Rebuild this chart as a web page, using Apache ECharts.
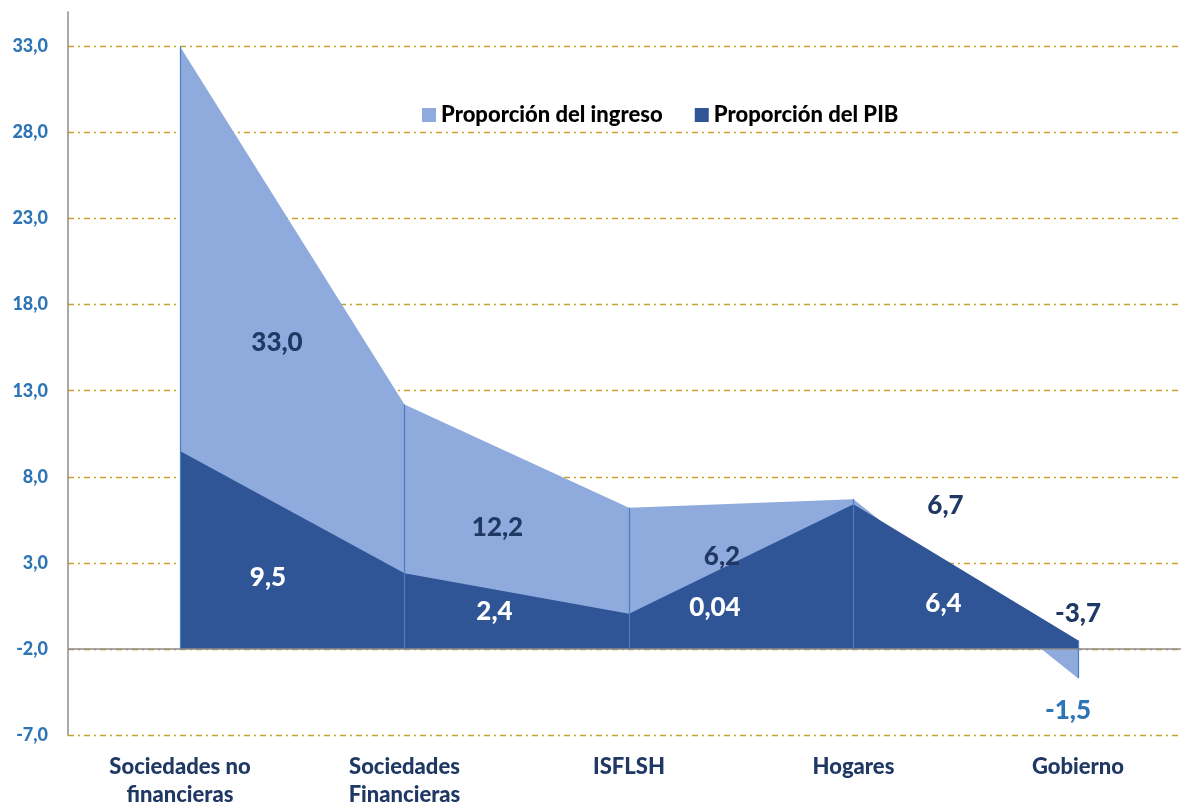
<!DOCTYPE html>
<html>
<head>
<meta charset="utf-8">
<script src="https://cdn.jsdelivr.net/npm/echarts@6/dist/echarts.min.js"></script>
<style>
  html, body { margin: 0; padding: 0; background: #fff; }
  #chart { width: 1181px; height: 806px; }
</style>
</head>
<body>
<div id="chart"></div>
<script>
const categories = ['Sociedades no\nfinancieras', 'Sociedades\nFinancieras', 'ISFLSH', 'Hogares', 'Gobierno'];
const ingreso = [33.0, 12.2, 6.2, 6.7, -3.7];
const pib = [9.5, 2.4, 0.04, 6.4, -1.5];
const baseLine = -2;

const LIGHT = '#8FAADC';
const DARK = '#2F5597';
const NAVY = '#1F3864';
const BLUE = '#2E75B6';
const FONT = 'Lato';
const W = 900;

const fmt = v => (Number.isInteger(v) ? v.toFixed(1) : String(v)).replace('.', ',');

// label shifts, picked to match the reference placement
const ingresoShift = [[97, 296], [93, 123], [93, 49], [92, 6], [0, -65]];
const pibShift = [[88, 127], [90, 38], [86, -6], [90, 99], [-10, 70]];

function labelled(values, shifts, color, lastColor) {
  return values.map((v, i) => ({
    value: v,
    label: {
      offset: shifts[i],
      color: (i === values.length - 1 && lastColor) ? lastColor : color
    }
  }));
}

const yRange = { min: -7, max: 35, interval: 5 };

const chart = echarts.init(document.getElementById('chart'));
chart.setOption({
  animation: false,
  textStyle: { fontFamily: FONT },
  legend: {
    left: 417,
    top: 99,
    icon: 'rect',
    itemWidth: 14,
    itemHeight: 14,
    itemGap: 32,
    textStyle: { fontFamily: FONT, fontWeight: W, fontSize: 22, color: '#000' },
    data: [
      { name: 'Proporción del ingreso', itemStyle: { color: LIGHT } },
      { name: 'Proporción del PIB', itemStyle: { color: DARK } }
    ]
  },
  grid: [
    { left: 68, top: 12, right: 0, bottom: 71, outerBoundsMode: 'none', containLabel: false },   // frame
    { left: 180, top: 12, right: 103, bottom: 71, outerBoundsMode: 'none', containLabel: false } // data
  ],
  xAxis: [
    { gridIndex: 0, type: 'value', show: false, min: 0, max: 1 },
    {
      gridIndex: 1,
      type: 'category',
      data: categories,
      boundaryGap: false,
      axisLine: { show: false },
      axisTick: { show: false },
      axisLabel: {
        margin: 18,
        fontFamily: FONT, fontWeight: W, fontSize: 22, lineHeight: 28, color: NAVY
      }
    }
  ],
  yAxis: [
    Object.assign({
      gridIndex: 0,
      type: 'value',
      axisLine: { show: true, lineStyle: { color: '#8c8c8c', width: 1.5 } },
      axisTick: { show: false },
      axisLabel: {
        margin: 20,
        showMaxLabel: false,
        fontFamily: FONT, fontWeight: W, fontSize: 18, color: BLUE,
        formatter: v => v.toFixed(1).replace('.', ',')
      },
      splitLine: {
        showMaxLine: false,
        lineStyle: { color: '#C9A227', width: 1.3, type: [6, 4, 2, 4] }
      }
    }, yRange),
    Object.assign({ gridIndex: 1, type: 'value', show: false, splitLine: { show: false } }, yRange)
  ],
  series: [
    {
      name: 'Proporción del ingreso',
      type: 'line',
      xAxisIndex: 1,
      yAxisIndex: 1,
      color: LIGHT,
      data: labelled(ingreso, ingresoShift, NAVY),
      symbol: 'circle',
      symbolSize: 1,
      itemStyle: { color: 'rgba(0,0,0,0)' },
      lineStyle: { width: 0 },
      areaStyle: { color: LIGHT, opacity: 1, origin: baseLine },
      label: {
        show: true, position: 'inside',
        fontFamily: FONT, fontWeight: W, fontSize: 26,
        formatter: p => fmt(p.value)
      }
    },
    {
      name: 'Proporción del PIB',
      type: 'line',
      xAxisIndex: 1,
      yAxisIndex: 1,
      color: DARK,
      data: labelled(pib, pibShift, '#fff', BLUE),
      symbol: 'circle',
      symbolSize: 1,
      itemStyle: { color: 'rgba(0,0,0,0)' },
      lineStyle: { width: 0 },
      areaStyle: { color: DARK, opacity: 1, origin: baseLine },
      label: {
        show: true, position: 'inside',
        fontFamily: FONT, fontWeight: W, fontSize: 26,
        formatter: p => fmt(p.value)
      },
      markLine: {
        silent: true,
        symbol: 'none',
        label: { show: false },
        data: [
          [{ coord: [0, baseLine], x: 68, lineStyle: { color: '#8c8c8c', width: 1.5, type: 'solid' } },
           { coord: [categories.length - 1, baseLine], x: 1181 }]
        ].concat(ingreso.map((v, i) => [
          { coord: [i, Math.max(v, pib[i])], lineStyle: { color: '#4A7EC4', width: 1.2, type: 'solid' } },
          { coord: [i, Math.min(v, baseLine)] }
        ]))
      }
    }
  ]
});
</script>
</body>
</html>
